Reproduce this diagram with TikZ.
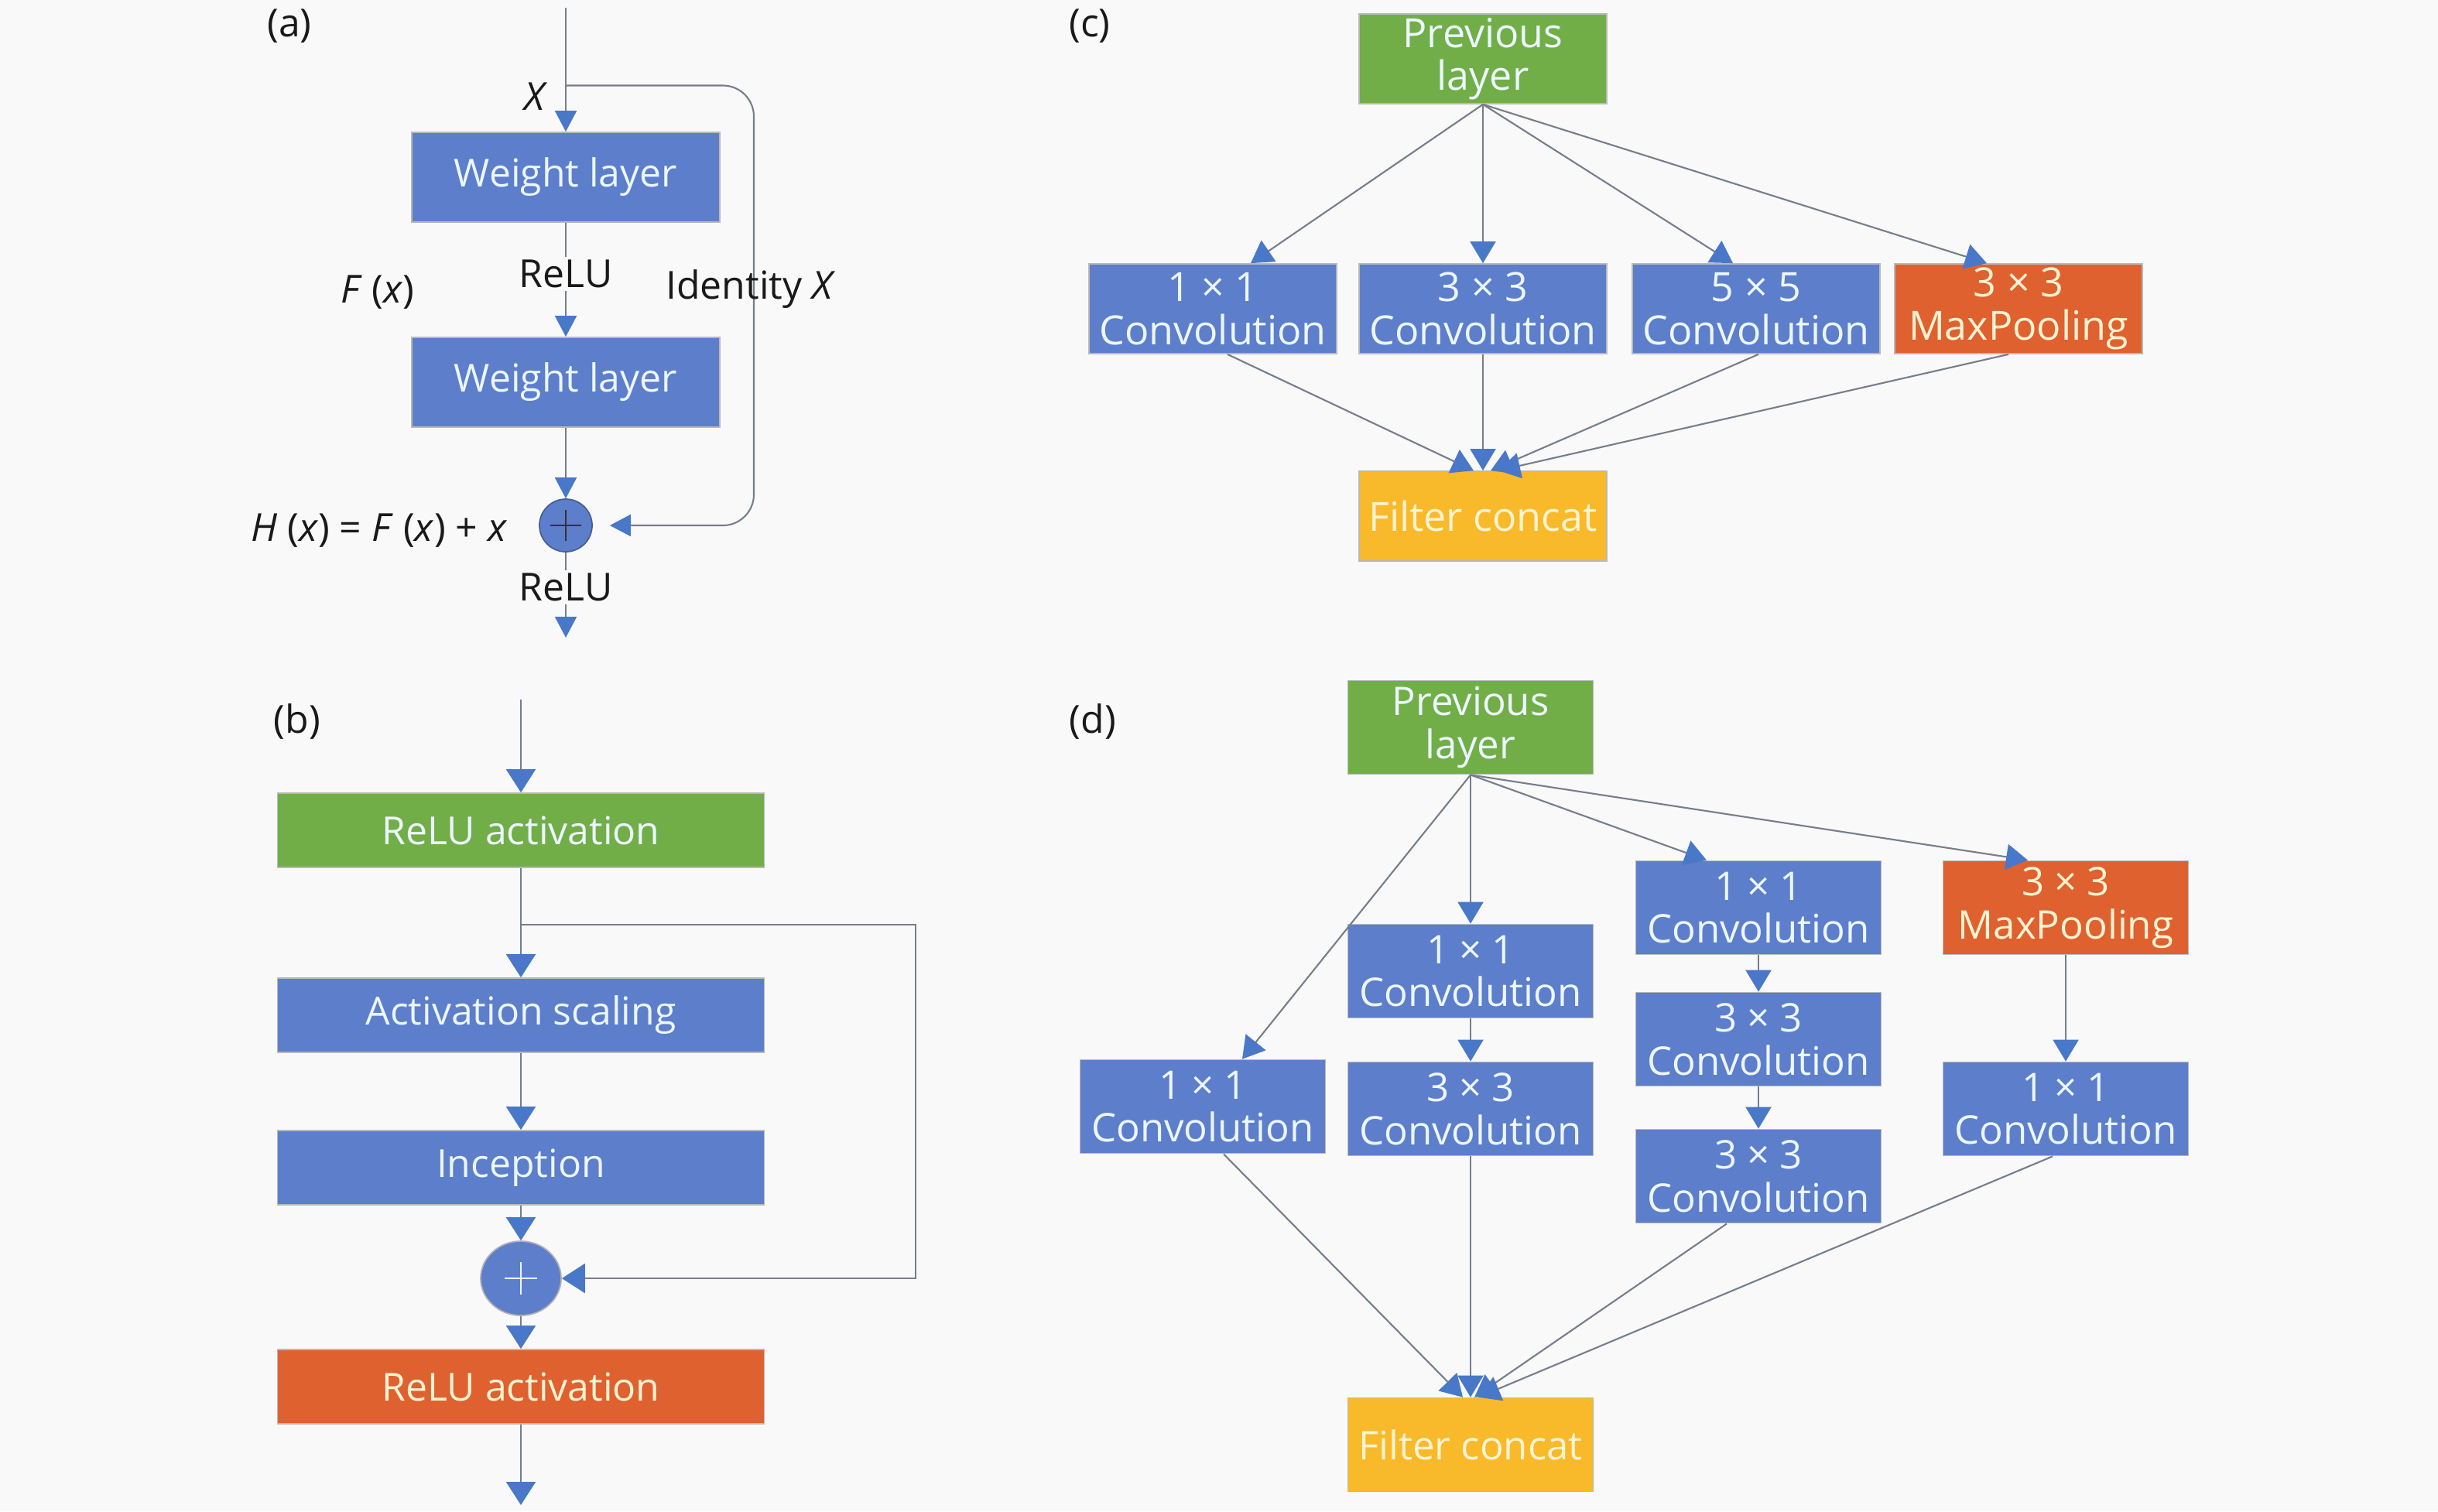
\documentclass[tikz,border=0pt]{standalone}
\usepackage{fontspec}
\setmainfont{Open Sans}
\usetikzlibrary{arrows.meta,shapes.geometric}

\definecolor{bgc}{RGB}{249,249,249}
\definecolor{boxblue}{RGB}{93,126,203}
\definecolor{boxgreen}{RGB}{114,174,72}
\definecolor{boxorange}{RGB}{223,97,47}
\definecolor{boxyellow}{RGB}{248,186,42}
\definecolor{tipblue}{RGB}{74,120,200}
\definecolor{wiregray}{RGB}{118,126,138}
\definecolor{paletext}{RGB}{236,246,255}
\definecolor{warmtext}{RGB}{255,243,210}

\tikzset{
  layer/.style={draw=gray!55, line width=0.5pt, fill=boxblue, text=paletext,
    align=center, inner sep=0pt, font=\fontsize{14.2}{15.5}\selectfont},
  greenlayer/.style={layer, fill=boxgreen},
  orangelayer/.style={layer, fill=boxorange, text=warmtext},
  concatlayer/.style={layer, fill=boxyellow, text=warmtext},
  wiring/.style={draw=wiregray, line width=0.6pt},
  flow/.style={wiring, -{Triangle[length=2.8mm,width=3.3mm,color=tipblue]}},
  slimflow/.style={wiring, -{Triangle[length=2.7mm,width=2.8mm,color=tipblue]}},
  wideflow/.style={wiring, -{Triangle[length=3mm,width=3.8mm,color=tipblue]}},
  lbl/.style={font=\fontsize{14.2}{16}\selectfont, text=black!90},
  sumnode/.style={circle, fill=boxblue, draw=boxblue!75!black, line width=0.5pt,
    minimum size=6.8mm, inner sep=0pt},
  sumwide/.style={ellipse, fill=boxblue, draw=gray!60, line width=0.5pt,
    minimum width=10.4mm, minimum height=9.6mm, inner sep=0pt},
  wa/.style={layer, minimum width=3.98cm, minimum height=1.16cm},
  wb/.style={minimum width=6.29cm, minimum height=0.96cm},
  wc/.style={minimum width=3.2cm, minimum height=1.16cm, font=\fontsize{14.8}{15.8}\selectfont},
  wd/.style={minimum width=3.17cm, minimum height=1.21cm, font=\fontsize{14.5}{15.8}\selectfont},
}

\begin{document}
\begin{tikzpicture}

  \fill[bgc] (0,0) rectangle (31.5,-19.53);
  \useasboundingbox (0,0) rectangle (31.5,-19.53);

  % Panel labels
  \node[lbl] (tagA) at (3.74,-0.34) {(a)};
  \node[lbl] (tagB) at (3.84,-9.32) {(b)};
  \node[lbl] (tagC) at (14.08,-0.34) {(c)};
  \node[lbl] (tagD) at (14.12,-9.32) {(d)};

  % (a) residual block
  \coordinate (ain) at (7.31,-0.10);
  \coordinate (asplit) at (7.31,-1.105);
  \coordinate (aout) at (7.31,-8.24);
  \node[wa]      (wl1)  at (7.31,-2.29) {Weight layer};
  \node[wa]      (wl2)  at (7.31,-4.94) {Weight layer};
  \node[sumnode] (add1) at (7.31,-6.79) {};
  \draw[black!80, line width=0.6pt] (add1.center) +(-0.2,0) -- +(0.2,0)
    (add1.center) +(0,-0.2) -- +(0,0.2);

  \draw[slimflow] (ain) -- (wl1.north);
  \draw[slimflow] (wl1.south) -- (wl2.north);
  \draw[slimflow] (wl2.south) -- (add1.north);
  \draw[slimflow] (add1.south) -- (aout);
  \draw[slimflow, rounded corners=4mm] (asplit) -- ++(2.43,0) |- ([xshift=2.2mm]add1.east);

  \node[lbl] (xin) at (6.93,-1.25) {\textit{X}};
  \node[lbl, fill=bgc, inner sep=1pt] (relu1) at (7.31,-3.54) {ReLU};
  \node[lbl] (fx) at (4.88,-3.78) {\textit{F} (\textit{x})};
  \node[lbl] (ident) at (9.70,-3.74) {Identity \textit{X}};
  \node[lbl, anchor=east] (hx) at (6.68,-6.86)
    {\textit{H} (\textit{x}) = \textit{F} (\textit{x}) + \textit{x}};
  \node[lbl, fill=bgc, inner sep=1pt] (relu2) at (7.31,-7.59) {ReLU};

  % (b) inception-resnet block
  \coordinate (bin) at (6.73,-9.04);
  \coordinate (bsplit) at (6.73,-11.95);
  \coordinate (bout) at (6.73,-19.45);
  \node[greenlayer, wb]  (reluin)  at (6.73,-10.73) {ReLU activation};
  \node[layer, wb]       (scale)   at (6.73,-13.12) {Activation scaling};
  \node[layer, wb]       (incep)   at (6.73,-15.09) {Inception};
  \node[sumwide]         (add2)    at (6.73,-16.52) {};
  \node[orangelayer, wb] (reluout) at (6.73,-17.92) {ReLU activation};
  \draw[paletext, line width=0.6pt] (add2.center) +(-0.21,0) -- +(0.21,0)
    (add2.center) +(0,-0.21) -- +(0,0.21);

  \draw[wideflow] (bin) -- (reluin.north);
  \draw[wideflow] (reluin.south) -- (scale.north);
  \draw[wideflow] (scale.south) -- (incep.north);
  \draw[wideflow] (incep.south) -- (add2.north);
  \draw[wideflow] (add2.south) -- (reluout.north);
  \draw[wideflow] (reluout.south) -- (bout);
  \draw[wideflow] (bsplit) -- ++(5.10,0) |- (add2.east);

  % (c) naive inception module
  \node[greenlayer, wc]  (prevc)   at (19.16,-0.76) {Previous\\layer};
  \node[layer, wc]       (convc1)  at (15.67,-3.99) {1 × 1\\Convolution};
  \node[layer, wc]       (convc3)  at (19.16,-3.99) {3 × 3\\Convolution};
  \node[layer, wc]       (convc5)  at (22.69,-3.99) {5 × 5\\Convolution};
  \node[orangelayer, wc] (poolc)   at (26.08,-3.99) {3 × 3\\MaxPooling};
  \node[concatlayer, wc] (concatc) at (19.16,-6.67) {Filter concat};

  \draw[flow] (prevc.south) -- ([xshift=4.9mm]convc1.north);
  \draw[flow] (prevc.south) -- (convc3.north);
  \draw[flow] (prevc.south) -- ([xshift=-3mm]convc5.north);
  \draw[flow] (prevc.south) -- ([xshift=-4.1mm]poolc.north);
  \draw[flow] ([xshift=1.9mm]convc1.south) -- ([xshift=-1.2mm]concatc.north);
  \draw[flow] (convc3.south) -- (concatc.north);
  \draw[flow] ([xshift=0.3mm]convc5.south) -- ([xshift=1mm]concatc.north);
  \draw[flow] ([xshift=-1.3mm]poolc.south) -- ([xshift=2mm]concatc.north);

  % (d) inception module with reductions
  \node[greenlayer, wd]  (prevd)   at (19.00,-9.40)  {Previous\\layer};
  \node[layer, wd]       (convd1)  at (15.54,-14.30) {1 × 1\\Convolution};
  \node[layer, wd]       (convd2a) at (19.00,-12.55) {1 × 1\\Convolution};
  \node[layer, wd]       (convd2b) at (19.00,-14.33) {3 × 3\\Convolution};
  \node[layer, wd]       (convd3a) at (22.72,-11.73) {1 × 1\\Convolution};
  \node[layer, wd]       (convd3b) at (22.72,-13.43) {3 × 3\\Convolution};
  \node[layer, wd]       (convd3c) at (22.72,-15.20) {3 × 3\\Convolution};
  \node[orangelayer, wd] (poold)   at (26.69,-11.73) {3 × 3\\MaxPooling};
  \node[layer, wd]       (convd4)  at (26.69,-14.33) {1 × 1\\Convolution};
  \node[concatlayer, wd] (concatd) at (19.00,-18.67) {Filter concat};

  \draw[flow] (prevd.south) -- ([xshift=5.1mm]convd1.north);
  \draw[flow] (prevd.south) -- (convd2a.north);
  \draw[flow] (prevd.south) -- ([xshift=-6.7mm]convd3a.north);
  \draw[flow] (prevd.south) -- ([xshift=-4.9mm]poold.north);
  \draw[flow] (convd2a.south) -- (convd2b.north);
  \draw[flow] (convd3a.south) -- (convd3b.north);
  \draw[flow] (convd3b.south) -- (convd3c.north);
  \draw[flow] (poold.south) -- (convd4.north);
  \draw[flow] ([xshift=2.7mm]convd1.south) -- ([xshift=-1mm]concatd.north);
  \draw[flow] (convd2b.south) -- (concatd.north);
  \draw[flow] ([xshift=-4.1mm]convd3c.south) -- ([xshift=0.5mm]concatd.north);
  \draw[flow] ([xshift=-1.7mm]convd4.south) -- ([xshift=1mm]concatd.north);

\end{tikzpicture}
\end{document}
